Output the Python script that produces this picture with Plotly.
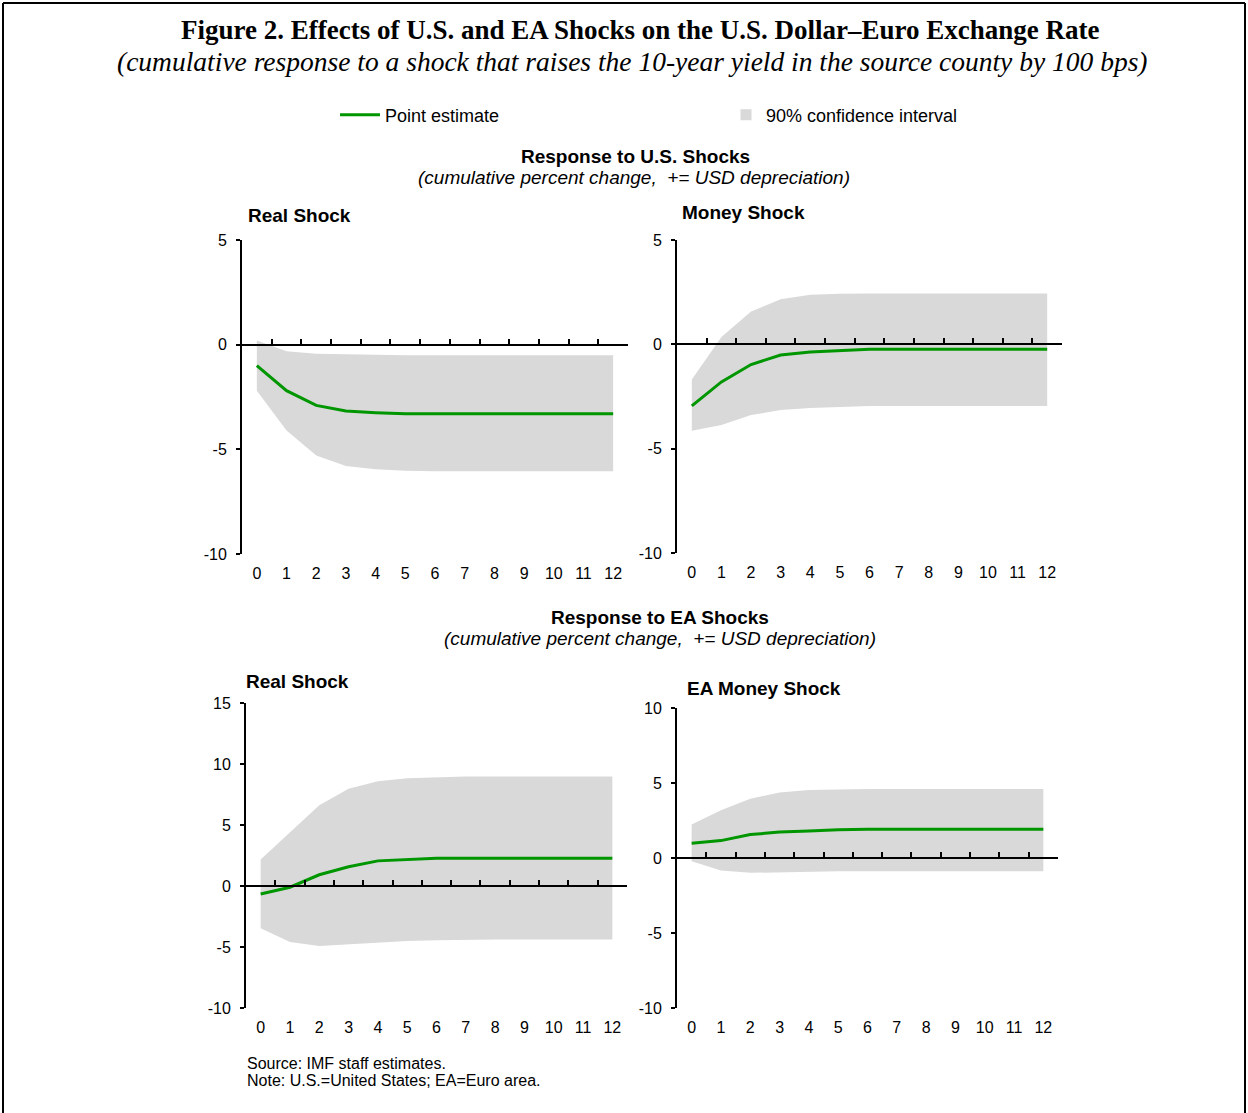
import plotly.graph_objects as go

W, H = 1248, 1113

# ---------------- data ----------------
periods = list(range(13))
x_tick_labels = [str(p) for p in periods]

us_real_point = [-1.0, -2.2, -2.9, -3.17, -3.25, -3.3, -3.3, -3.3, -3.3, -3.3, -3.3, -3.3, -3.3]
us_real_upper = [0.2, -0.32, -0.43, -0.46, -0.48, -0.5, -0.5, -0.5, -0.5, -0.5, -0.5, -0.5, -0.5]
us_real_lower = [-2.2, -4.1, -5.3, -5.8, -5.95, -6.02, -6.05, -6.05, -6.05, -6.05, -6.05, -6.05, -6.05]

us_money_point = [-2.95, -1.8, -0.97, -0.51, -0.37, -0.3, -0.24, -0.24, -0.24, -0.24, -0.24, -0.24, -0.24]
us_money_upper = [-1.68, 0.35, 1.57, 2.16, 2.38, 2.43, 2.44, 2.44, 2.44, 2.44, 2.44, 2.44, 2.44]
us_money_lower = [-4.14, -3.87, -3.39, -3.15, -3.05, -3.0, -2.96, -2.96, -2.96, -2.96, -2.96, -2.96, -2.96]

ea_real_point = [-0.65, -0.1, 0.92, 1.58, 2.06, 2.17, 2.28, 2.28, 2.28, 2.28, 2.28, 2.28, 2.28]
ea_real_upper = [2.17, 4.39, 6.61, 7.97, 8.58, 8.83, 8.92, 8.97, 8.97, 8.97, 8.97, 8.97, 8.97]
ea_real_lower = [-3.47, -4.58, -4.92, -4.78, -4.58, -4.5, -4.44, -4.39, -4.39, -4.39, -4.39, -4.39, -4.39]

ea_money_point = [0.99, 1.16, 1.56, 1.73, 1.8, 1.89, 1.91, 1.91, 1.91, 1.91, 1.91, 1.91, 1.91]
ea_money_upper = [2.24, 3.18, 3.95, 4.36, 4.54, 4.58, 4.6, 4.6, 4.6, 4.6, 4.6, 4.6, 4.6]
ea_money_lower = [-0.22, -0.83, -0.99, -0.94, -0.9, -0.88, -0.88, -0.88, -0.88, -0.88, -0.88, -0.88, -0.88]

us_y_ticks = [-10, -5, 0, 5]
ea_real_y_ticks = [-10, -5, 0, 5, 10, 15]
ea_money_y_ticks = [-10, -5, 0, 5, 10]

panel_titles = ["Real Shock", "Money Shock", "Real Shock", "EA Money Shock"]

# ---------------- styling / layout ----------------
GREEN = "rgb(0,150,0)"
GREY = "#D9D9D9"
SANS = "Liberation Sans, Arial, sans-serif"
SERIF = "Liberation Serif, Times New Roman, serif"


def fx(px):
    return px / W


def fy(py):
    return 1 - py / H


def tick_text(vals):
    return [str(v) for v in vals]  # plain hyphen-minus as in the original


panels = [
    dict(point=us_real_point, upper=us_real_upper, lower=us_real_lower,
         yrange=[-10, 5], yticks=us_y_ticks, xpx=[242, 628], ypx=[240, 554],
         title_pos=(246, 215)),
    dict(point=us_money_point, upper=us_money_upper, lower=us_money_lower,
         yrange=[-10, 5], yticks=us_y_ticks, xpx=[677, 1062], ypx=[240, 553],
         title_pos=(680, 212)),
    dict(point=ea_real_point, upper=ea_real_upper, lower=ea_real_lower,
         yrange=[-10, 15], yticks=ea_real_y_ticks, xpx=[246, 627], ypx=[703, 1008],
         title_pos=(244, 681)),
    dict(point=ea_money_point, upper=ea_money_upper, lower=ea_money_lower,
         yrange=[-10, 10], yticks=ea_money_y_ticks, xpx=[677, 1058], ypx=[708, 1008],
         title_pos=(685, 688)),
]

fig = go.Figure()
layout_axes = {}
annotations = []

for i, p in enumerate(panels):
    n = i + 1
    xa = "x" if n == 1 else f"x{n}"
    ya = "y" if n == 1 else f"y{n}"
    xkey = "xaxis" if n == 1 else f"xaxis{n}"
    ykey = "yaxis" if n == 1 else f"yaxis{n}"
    ov_n = n + 4
    ov_a = f"x{ov_n}"
    ov_key = f"xaxis{ov_n}"

    # confidence band
    fig.add_trace(go.Scatter(x=periods, y=p["lower"], mode="lines", line=dict(width=0, color=GREY),
                             showlegend=False, hoverinfo="skip", xaxis=xa, yaxis=ya))
    fig.add_trace(go.Scatter(x=periods, y=p["upper"], mode="lines", line=dict(width=0, color=GREY),
                             fill="tonexty", fillcolor=GREY, showlegend=False, hoverinfo="skip",
                             xaxis=xa, yaxis=ya))
    # point estimate
    fig.add_trace(go.Scatter(x=periods, y=p["point"], mode="lines", line=dict(width=3, color=GREEN),
                             name="Point estimate", showlegend=(n == 1), legend="legend",
                             xaxis=xa, yaxis=ya))
    # empty trace so that the zero-line axis (with its tick marks) is rendered
    fig.add_trace(go.Scatter(x=[None], y=[None], mode="lines", showlegend=False, hoverinfo="skip",
                             xaxis=ov_a, yaxis=ya))

    xdom = [fx(p["xpx"][0]), fx(p["xpx"][1])]
    ydom = [fy(p["ypx"][1]), fy(p["ypx"][0])]
    y0, y1 = p["yrange"]
    zero_pos = ydom[0] + (0 - y0) / (y1 - y0) * (ydom[1] - ydom[0])

    layout_axes[xkey] = dict(domain=xdom, anchor=ya, range=[-0.5, 12.5], showline=False,
                             showgrid=False, zeroline=False, tickvals=periods, ticktext=x_tick_labels,
                             ticks="", ticklabelstandoff=8, automargin=False,
                             tickfont=dict(family=SANS, size=16, color="black"), fixedrange=True)
    layout_axes[ykey] = dict(domain=ydom, anchor=xa, range=p["yrange"], showline=True, linewidth=2,
                             linecolor="black", showgrid=False, zeroline=False, tickvals=p["yticks"],
                             ticktext=tick_text(p["yticks"]),
                             ticks="outside", ticklen=4, tickwidth=2, tickcolor="black",
                             ticklabelstandoff=6, automargin=False,
                             tickfont=dict(family=SANS, size=16, color="black"), fixedrange=True)
    layout_axes[ov_key] = dict(domain=xdom, overlaying=xa, anchor="free", position=zero_pos,
                               side="bottom", range=[-0.5, 12.5], showline=True, linewidth=2,
                               linecolor="black", showgrid=False, zeroline=False,
                               tickvals=[k + 0.5 for k in periods], ticks="inside", ticklen=5,
                               tickwidth=1.5, tickcolor="black", showticklabels=False,
                               automargin=False, fixedrange=True)

    tx, ty = p["title_pos"]
    annotations.append(dict(text=f"<b>{panel_titles[i]}</b>", x=fx(tx), y=fy(ty), xref="paper",
                            yref="paper", xanchor="left", yanchor="middle", showarrow=False,
                            font=dict(family=SANS, size=19, color="black")))

# legend entry for the confidence interval
fig.add_trace(go.Scatter(x=[None], y=[None], mode="markers",
                         marker=dict(symbol="square", size=11, color=GREY),
                         name="90% confidence interval", legend="legend2", showlegend=True,
                         hoverinfo="skip"))

# header / section texts
texts = [
    ("<b>Figure 2. Effects of U.S. and EA Shocks on the U.S. Dollar\u2013Euro Exchange Rate</b>",
     640, 30, SERIF, 27, "center"),
    ("<i>(cumulative response to a shock that raises the 10-year yield in the source county by 100 bps)</i>",
     632, 62, SERIF, 27.5, "center"),
    ("<b>Response to U.S. Shocks</b>", 635, 156, SANS, 19, "center"),
    ("<i>(cumulative percent change,  += USD depreciation)</i>", 634, 177, SANS, 19, "center"),
    ("<b>Response to EA Shocks</b>", 660, 617, SANS, 19, "center"),
    ("<i>(cumulative percent change,  += USD depreciation)</i>", 660, 638, SANS, 19, "center"),
    ("Source: IMF staff estimates.", 245, 1063, SANS, 16, "left"),
    ("Note: U.S.=United States; EA=Euro area.", 245, 1080, SANS, 16, "left"),
]
for t, x, y, fam, size, anchor in texts:
    annotations.append(dict(text=t, x=fx(x), y=fy(y), xref="paper", yref="paper", xanchor=anchor,
                            yanchor="middle", showarrow=False,
                            font=dict(family=fam, size=size, color="black")))

# outer frame
shapes = [
    dict(type="line", xref="paper", yref="paper", x0=fx(3), x1=fx(3), y0=fy(3), y1=fy(1113),
         line=dict(color="black", width=2)),
    dict(type="line", xref="paper", yref="paper", x0=fx(1245), x1=fx(1245), y0=fy(3), y1=fy(1113),
         line=dict(color="black", width=2)),
    dict(type="line", xref="paper", yref="paper", x0=fx(3), x1=fx(1245), y0=fy(3), y1=fy(3),
         line=dict(color="black", width=2)),
]

fig.update_layout(
    template="none",
    width=W, height=H, margin=dict(l=0, r=0, t=0, b=0, pad=0, autoexpand=False),
    paper_bgcolor="white", plot_bgcolor="rgba(0,0,0,0)",
    annotations=annotations, shapes=shapes,
    legend=dict(x=fx(335), y=fy(115), xanchor="left", yanchor="middle", orientation="h",
                bgcolor="rgba(0,0,0,0)", font=dict(family=SANS, size=18, color="black"),
                itemwidth=40),
    legend2=dict(x=fx(726), y=fy(115), xanchor="left", yanchor="middle", orientation="h",
                 bgcolor="rgba(0,0,0,0)", font=dict(family=SANS, size=18, color="black"),
                 itemwidth=30),
    **layout_axes,
)

fig.write_html("out.html", config={"displayModeBar": False},
               post_script="document.body.style.margin='0px';")
